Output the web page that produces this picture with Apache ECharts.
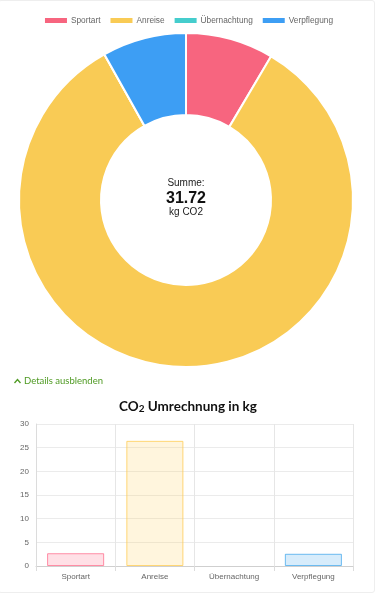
<!DOCTYPE html>
<html>
<head>
<meta charset="utf-8">
<script src="https://cdn.jsdelivr.net/npm/echarts@6/dist/echarts.min.js"></script>
<style>
  html, body { margin: 0; padding: 0; background: #fff; }
  #card {
    position: absolute; left: -2px; top: 0; width: 377px; height: 593px;
    box-sizing: border-box; border: 1px solid #eeeeee; border-radius: 3px;
  }
  #chart { position: absolute; left: 0; top: 0; width: 376px; height: 595px; }
</style>
</head>
<body>
<div id="card"></div>
<div id="chart"></div>
<script>
  // kategorien + werte (kg CO2)
  const categories = ['Sportart', 'Anreise', 'Übernachtung', 'Verpflegung'];
  const co2Values = [2.70, 26.44, 0, 2.58];
  const solidColors = ['#f7657f', '#f9cb55', '#45cdcd', '#3d9ef4'];
  const fillColors = ['rgba(255,99,132,0.2)', 'rgba(255,205,86,0.2)', 'rgba(75,192,192,0.2)', 'rgba(54,162,235,0.2)'];
  const borderColors = ['rgba(255,99,132,0.7)', 'rgba(255,205,86,0.8)', 'rgba(75,192,192,0.8)', 'rgba(54,162,235,0.7)'];
  const yTicks = [0, 5, 10, 15, 20, 25, 30];

  const total = co2Values.reduce((a, b) => a + b, 0);
  const font = '"Liberation Sans", Arial, sans-serif';

  const chart = echarts.init(document.getElementById('chart'), null, { renderer: 'canvas' });

  const option = {
    animation: false,
    color: solidColors,
    textStyle: { fontFamily: font },
    legend: {
      data: categories,
      top: 11,
      left: 'center',
      icon: 'rect',
      itemWidth: 24,
      itemHeight: 7,
      itemGap: 8,
      textStyle: { fontSize: 8.3, color: '#666', padding: [0, 0, 0, -2] }
    },
    title: {
      text: '{a|CO}{b|2}{a| Umrechnung in kg}',
      left: 'center',
      top: 395,
      textStyle: {
        rich: {
          a: { fontFamily: 'Lato', fontWeight: 'bold', fontSize: 13.5, color: '#111' },
          b: { fontFamily: 'Lato', fontWeight: 'bold', fontSize: 10, color: '#111', padding: [3, 0, 0, 0] }
        }
      }
    },
    grid: { left: 36, right: 23, top: 424, bottom: 29 },
    xAxis: {
      type: 'category',
      data: categories,
      axisLine: { lineStyle: { color: '#cfcfcf' } },
      axisTick: { show: true, length: 5, interval: 0, lineStyle: { color: '#dcdcdc' } },
      axisLabel: { fontSize: 8, color: '#666', margin: 7, interval: 0 },
      splitLine: { show: true, interval: 0, lineStyle: { color: '#e6e6e6' } }
    },
    yAxis: {
      type: 'value',
      min: yTicks[0],
      max: yTicks[yTicks.length - 1],
      interval: yTicks[1] - yTicks[0],
      axisLine: { show: true, lineStyle: { color: '#dcdcdc' } },
      axisTick: { show: false },
      axisLabel: { fontSize: 8, color: '#666', margin: 7 },
      splitLine: { lineStyle: { color: '#ebebeb' } }
    },
    series: [
      {
        type: 'pie',
        center: [186, 200],
        radius: [85, 167],
        startAngle: 90,
        clockwise: true,
        label: { show: false },
        labelLine: { show: false },
        itemStyle: { borderColor: '#fff', borderWidth: 2 },
        data: categories.map((c, i) => ({ name: c, value: co2Values[i] }))
      },
      {
        type: 'bar',
        barWidth: '72%',
        data: co2Values.map((v, i) => ({
          value: v,
          itemStyle: { color: fillColors[i], borderColor: borderColors[i], borderWidth: v > 0 ? 1 : 0 }
        }))
      }
    ],
    graphic: [
      {
        type: 'text', x: 186, y: 183,
        style: { text: 'Summe:', font: '10px ' + font, fill: '#222', align: 'center', verticalAlign: 'middle' }
      },
      {
        type: 'text', x: 186, y: 199,
        style: { text: total.toFixed(2), font: 'bold 16px ' + font, fill: '#111', align: 'center', verticalAlign: 'middle' }
      },
      {
        type: 'text', x: 186, y: 212,
        style: { text: 'kg CO2', font: '10px ' + font, fill: '#222', align: 'center', verticalAlign: 'middle' }
      },
      {
        type: 'polyline',
        shape: { points: [[14.5, 383], [17.5, 379.5], [20.5, 383]] },
        style: { stroke: '#4f9a23', lineWidth: 1.3, fill: null }
      },
      {
        type: 'text', x: 24, y: 380.5,
        style: { text: 'Details ausblenden', font: '9.5px Lato', fill: '#4f9a23', verticalAlign: 'middle' }
      }
    ]
  };

  chart.setOption(option);
</script>
</body>
</html>
